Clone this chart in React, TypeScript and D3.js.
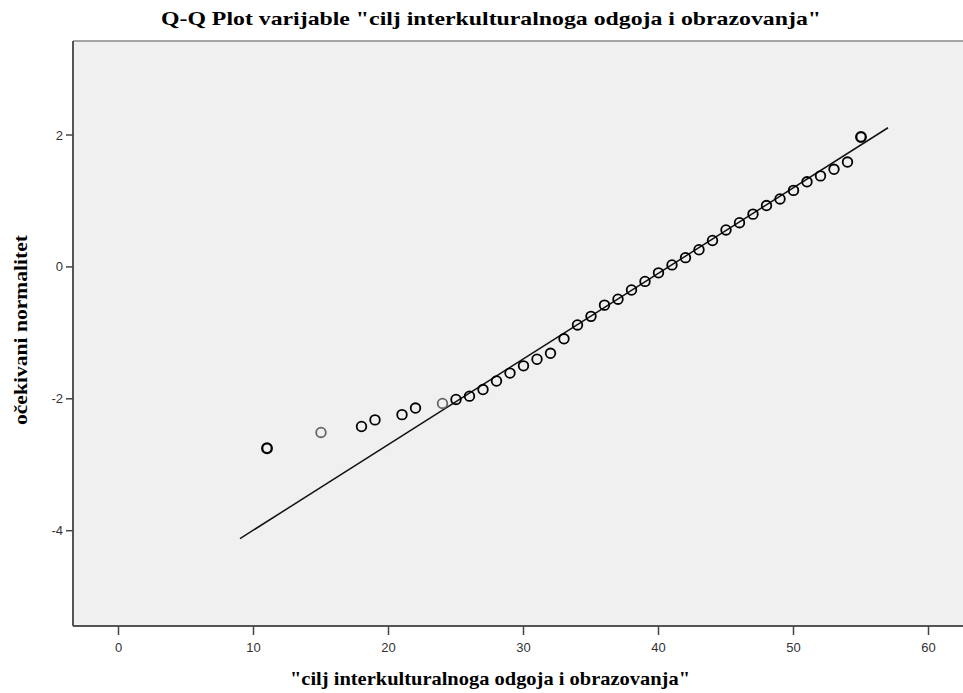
import React from "react";
import * as d3 from "d3";

const observed = [11, 15, 18, 19, 21, 22, 24, 25, 26, 27, 28, 29, 30, 31, 32, 33, 34, 35, 36, 37, 38, 39, 40, 41, 42, 43, 44, 45, 46, 47, 48, 49, 50, 51, 52, 53, 54, 55];
const expected = [-2.75, -2.51, -2.42, -2.32, -2.24, -2.14, -2.07, -2.01, -1.96, -1.86, -1.73, -1.61, -1.50, -1.40, -1.31, -1.09, -0.88, -0.75, -0.58, -0.49, -0.35, -0.22, -0.09, 0.03, 0.14, 0.26, 0.40, 0.56, 0.67, 0.80, 0.93, 1.03, 1.16, 1.29, 1.38, 1.48, 1.59, 1.97];
const lightPoints = [15, 24];
const boldPoints = [11, 55];
const refLineX = [9, 57];
const refLineY = [-4.12, 2.11];
const xTicks = [0, 10, 20, 30, 40, 50, 60];
const yTicks = [2, 0, -2, -4];

const W = 963;
const H = 693;
const frame = { left: 73, top: 41, right: 966, bottom: 626 };

export default function App() {
  const x = d3.scaleLinear().domain([0, 60]).range([118.5, 928.5]);
  const y = d3.scaleLinear().domain([-4, 2]).range([530.7, 135]);
  const line = d3.line<number>()
    .x((_, i) => x(refLineX[i]))
    .y((d) => y(d));

  return (
    <svg width={W} height={H} style={{ position: "absolute", left: 0, top: 0, background: "#fff" }}>
      <text x={491} y={25} textAnchor="middle" fontFamily="Liberation Serif" fontWeight="bold" fontSize={19} fill="#000"
        textLength={660} lengthAdjust="spacingAndGlyphs">
        Q-Q Plot varijable "cilj interkulturalnoga odgoja i obrazovanja"
      </text>
      <rect x={frame.left} y={frame.top} width={frame.right - frame.left} height={frame.bottom - frame.top} fill="#f0f0f0" stroke="none" />
      <line x1={frame.left} x2={frame.right} y1={frame.top} y2={frame.top} stroke="#888" strokeWidth={1.5} />
      <line x1={frame.left} x2={frame.left} y1={frame.top} y2={frame.bottom} stroke="#555" strokeWidth={2} />
      <line x1={frame.left} x2={frame.right} y1={frame.bottom} y2={frame.bottom} stroke="#555" strokeWidth={2} />
      {xTicks.map((t) => (
        <g key={"x" + t}>
          <line x1={x(t)} x2={x(t)} y1={frame.bottom} y2={frame.bottom + 9} stroke="#444" strokeWidth={1.5} />
          <text x={x(t)} y={frame.bottom + 26} textAnchor="middle" fontFamily="Liberation Sans" fontSize={13} fill="#333">{t}</text>
        </g>
      ))}
      {yTicks.map((t) => (
        <g key={"y" + t}>
          <line x1={frame.left - 7} x2={frame.left} y1={y(t)} y2={y(t)} stroke="#444" strokeWidth={1.5} />
          <text x={frame.left - 10} y={y(t) + 4.5} textAnchor="end" fontFamily="Liberation Sans" fontSize={13} fill="#333">{t}</text>
        </g>
      ))}
      <path d={line(refLineY) || ""} fill="none" stroke="#111" strokeWidth={1.5} />
      {observed.map((v, i) => {
        const light = lightPoints.includes(v);
        const bold = boldPoints.includes(v);
        return (
          <circle key={v} cx={x(v)} cy={y(expected[i])} r={4.8} fill="none"
            stroke={light ? "#666" : "#000"} strokeWidth={bold ? 2.3 : 1.8} />
        );
      })}
      <text x={490} y={685} textAnchor="middle" fontFamily="Liberation Serif" fontWeight="bold" fontSize={19} fill="#000"
        textLength={400} lengthAdjust="spacingAndGlyphs">
        "cilj interkulturalnoga odgoja i obrazovanja"
      </text>
      <text transform={`translate(27,${330}) rotate(-90)`} textAnchor="middle" fontFamily="Liberation Serif" fontWeight="bold" fontSize={19} fill="#000"
        textLength={190} lengthAdjust="spacingAndGlyphs">
        očekivani normalitet
      </text>
    </svg>
  );
}
